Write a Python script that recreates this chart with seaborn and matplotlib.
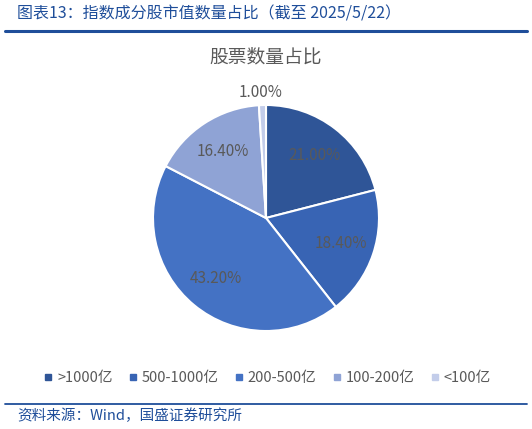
import seaborn as sns
import matplotlib.pyplot as plt
from matplotlib.lines import Line2D

# data
categories = ['>1000亿', '500-1000亿', '200-500亿', '100-200亿', '<100亿']
shares = [21.00, 18.40, 43.20, 16.40, 1.00]
colors = ['#2F5597', '#3864B4', '#4472C4', '#8FA3D5', '#C3CDEA']

sns.set_theme(style='white')
plt.rcParams['font.family'] = ['Noto Sans CJK SC', 'DejaVu Sans']

W, H = 532, 429
fig = plt.figure(figsize=(W / 100, H / 100), dpi=100)

# pie centred at (266, 218) px, radius ~113 px
cx, cy, r = 266, 218, 113
ax = fig.add_axes([(cx - r) / W, 1 - (cy + r) / H, 2 * r / W, 2 * r / H])
wedges, texts, autotexts = ax.pie(
    shares, colors=colors, startangle=90, counterclock=False,
    autopct=lambda p: f'{p:.2f}%', pctdistance=0.7,
    wedgeprops=dict(edgecolor='white', linewidth=1.5),
    textprops=dict(color='#595959', fontsize=11))
for w in wedges:
    w.set_clip_on(False)
ax.set_xlim(-1, 1)
ax.set_ylim(-1, 1)
ax.set_aspect('equal')
# small slice label sits outside
autotexts[-1].set_position((-0.05, 1.11))

fig.text(cx / W, 1 - 57 / H, '股票数量占比', ha='center', va='center',
         fontsize=13.5, color='#595959')

# legend
handles = [Line2D([], [], marker='s', linestyle='', markersize=5,
                  markerfacecolor=c, markeredgecolor=c) for c in colors]
fig.legend(handles, categories, loc='center', bbox_to_anchor=(cx / W, 1 - 378 / H),
           ncol=5, frameon=False, fontsize=10.5, labelcolor='#595959',
           handletextpad=0.1, columnspacing=0.9, handlelength=1.0)

# header and footer
blue = '#1F4E9A'
fig.text(17 / W, 1 - 14 / H, '图表13：指数成分股市值数量占比（截至 2025/5/22）',
         ha='left', va='center', fontsize=11.5, color=blue, style='italic')
fig.add_artist(Line2D([5 / W, 527 / W], [1 - 31 / H, 1 - 31 / H], color=blue, linewidth=2.2))
fig.add_artist(Line2D([5 / W, 527 / W], [1 - 404 / H, 1 - 404 / H], color=blue, linewidth=1.3))
fig.text(17 / W, 1 - 416 / H, '资料来源：Wind，国盛证券研究所',
         ha='left', va='center', fontsize=10.5, color=blue, style='italic')

fig.savefig('out.png', dpi=100)
